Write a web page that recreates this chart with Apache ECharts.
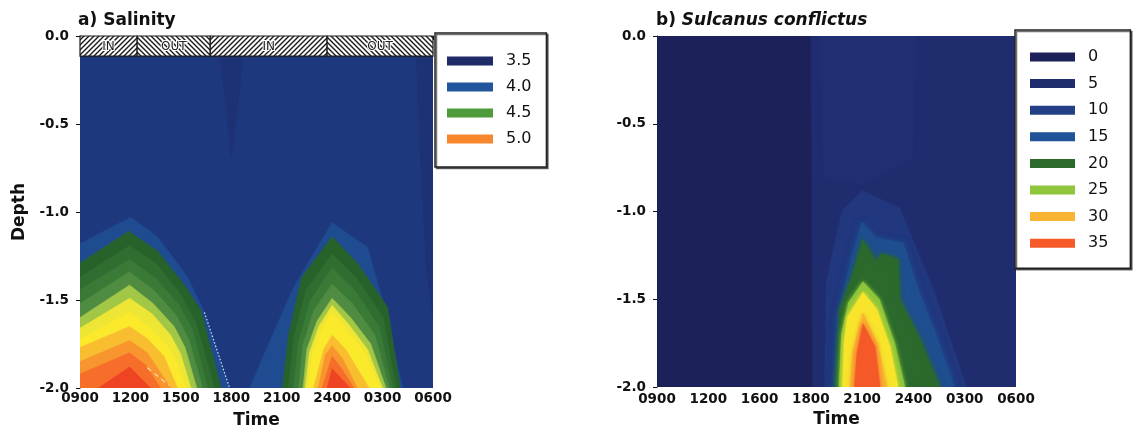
<!DOCTYPE html>
<html>
<head>
<meta charset="utf-8">
<script src="https://cdn.jsdelivr.net/npm/echarts@6/dist/echarts.min.js"></script>
<style>
  html, body { margin: 0; padding: 0; background: #fff; }
  #chart { width: 1138px; height: 433px; }
</style>
</head>
<body>
<div id="chart"></div>
<script>
// ---- Axis ticks: time is hours elapsed since 0900, one labelled tick every 3 h ----
const timeLabelsA = ['0900', '1200', '1500', '1800', '2100', '2400', '0300', '0600'];
const timeLabelsB = ['0900', '1200', '1600', '1800', '2100', '2400', '0300', '0600'];

// ---- Tidal phase bar above panel a: [label, start hour, end hour] ----
const tidePhases = [
  ['IN', 0, 3.4],
  ['OUT', 3.4, 7.75],
  ['IN', 7.75, 14.7],
  ['OUT', 14.7, 21]
];

// ---- Salinity: filled contour regions, each a list of [hour, depth] outlines ----
const sal375 = [[[0, 0], [21, 0], [21, -2], [0, -2]]];
const sal35 = [
  [[8.3, -0.1], [9.7, -0.1], [9.35, -0.45], [9.0, -0.68], [8.7, -0.4]],
  [[20.0, -0.1], [21, -0.1], [21, -1.6], [20.6, -1.3], [20.2, -0.6]]
];
const sal40 = [
  [[0, -1.18], [3.0, -1.03], [4.6, -1.14], [6.4, -1.37], [7.4, -1.57], [8.9, -2], [0, -2]],
  [[10.1, -2], [10.9, -1.82], [12.7, -1.43], [15.0, -1.06], [17.1, -1.2], [18.0, -1.5], [19.2, -2]]
];
const sal42 = [
  [[0, -1.29], [2.9, -1.11], [4.6, -1.22], [6.1, -1.40], [7.2, -1.56], [8.4, -2], [0, -2]],
  [[12.05, -2], [12.4, -1.7], [13.2, -1.37], [15.0, -1.14], [16.5, -1.29], [18.3, -1.54], [19.05, -2]]
];
const sal43 = [
  [[0, -1.37], [2.95, -1.19], [4.6, -1.30], [6.0, -1.47], [6.9, -1.63], [8.0, -2], [0, -2]],
  [[12.4, -2], [12.7, -1.72], [13.45, -1.44], [15.0, -1.24], [16.4, -1.37], [18.05, -1.6], [18.8, -2]]
];
const sal44 = [
  [[0, -1.44], [2.95, -1.27], [4.55, -1.38], [5.9, -1.53], [6.7, -1.67], [7.6, -2], [0, -2]],
  [[12.7, -2], [13.0, -1.74], [13.7, -1.5], [15.0, -1.32], [16.3, -1.44], [17.8, -1.65], [18.6, -2]]
];
const sal45 = [
  [[0, -1.52], [2.95, -1.34], [4.45, -1.45], [5.75, -1.59], [6.5, -1.73], [7.3, -2], [0, -2]],
  [[13.0, -2], [13.25, -1.76], [13.9, -1.56], [15.0, -1.41], [16.2, -1.52], [17.55, -1.7], [18.4, -2]]
];
const sal46 = [
  [[0, -1.6], [2.95, -1.415], [4.35, -1.52], [5.6, -1.65], [6.25, -1.77], [6.95, -2], [0, -2]],
  [[13.27, -2], [13.5, -1.78], [14.1, -1.62], [15.0, -1.49], [16.1, -1.6], [17.3, -1.75], [18.2, -2]]
];
const sal47 = [
  [[0, -1.66], [2.95, -1.49], [4.3, -1.58], [5.4, -1.70], [6.0, -1.81], [6.6, -2], [0, -2]],
  [[13.4, -2], [13.65, -1.8], [14.2, -1.65], [15.0, -1.53], [16.0, -1.64], [17.1, -1.78], [18.0, -2]]
];
const sal48 = [
  [[0, -1.72], [2.95, -1.57], [4.1, -1.65], [5.2, -1.76], [5.75, -1.85], [6.3, -2], [0, -2]],
  [[13.57, -2], [13.8, -1.82], [14.3, -1.68], [15.0, -1.57], [15.95, -1.68], [16.95, -1.8], [17.86, -2]]
];
const sal49 = [
  [[0, -1.77], [2.95, -1.65], [4.0, -1.72], [5.0, -1.82], [5.8, -2], [0, -2]],
  [[13.9, -2], [14.5, -1.78], [15.0, -1.70], [15.8, -1.78], [17.2, -2]]
];
const sal50 = [
  [[0, -1.85], [2.95, -1.73], [4.0, -1.80], [5.4, -2], [0, -2]],
  [[14.17, -2], [14.6, -1.81], [15.0, -1.76], [15.6, -1.83], [16.5, -2]]
];
const sal51 = [
  [[0, -1.92], [2.95, -1.80], [3.9, -1.87], [4.8, -2], [0, -2]],
  [[14.4, -2], [15.0, -1.82], [15.5, -1.88], [16.3, -2]]
];
const sal52 = [
  [[1.1, -2], [2.95, -1.88], [4.2, -2]],
  [[14.7, -2], [15.0, -1.89], [16.07, -2]]
];
const salinityLevels = ['3.75', '3.5', '4.0', '4.2', '4.3', '4.4', '4.5', '4.6', '4.7', '4.8', '4.9', '5.0', '5.1', '5.2'];
const salinityBands = [sal375, sal35, sal40, sal42, sal43, sal44, sal45, sal46, sal47, sal48, sal49, sal50, sal51, sal52];
const salinityLegend = ['3.5', '4.0', '4.5', '5.0'];
// traced contour segments showing through the fill
const salEdgeDotted = [[7.4, -1.57], [8.9, -2]];
const salEdgeDashed = [[4.0, -1.885], [5.3, -1.985]];

// ---- Sulcanus conflictus density: filled contour regions ----
const sul0 = [[[0, 0], [21, 0], [21, -2], [0, -2]]];
const sul5 = [[[9.0, 0], [21, 0], [21, -2], [9.1, -2]]];
const sul75 = [[[9.5, 0], [15.2, 0], [15.0, -0.7], [12.0, -0.85], [9.7, -0.8]]];
const sul10 = [[[9.8, -2], [9.9, -1.4], [10.8, -1.0], [12.0, -0.88], [14.2, -0.98], [16.2, -1.45], [18.1, -2]]];
const sul15 = [[[10.3, -2], [10.55, -1.6], [11.4, -1.25], [12.0, -1.06], [12.8, -1.15], [14.4, -1.18], [15.3, -1.45], [16.4, -1.72], [17.4, -2]]];
const sul20 = [[[10.45, -2], [10.7, -1.56], [11.4, -1.37], [12.05, -1.16], [12.85, -1.29], [13.1, -1.24], [14.1, -1.27], [14.2, -1.5], [15.4, -1.73], [16.55, -2]]];
const sul25 = [[[10.65, -2], [10.8, -1.7], [11.2, -1.52], [12.05, -1.40], [13.0, -1.5], [13.9, -1.75], [14.5, -2]]];
const sul275 = [[[10.85, -2], [10.95, -1.75], [11.15, -1.6], [12.05, -1.46], [12.87, -1.56], [13.63, -1.77], [14.1, -2]]];
const sul30 = [[[11.3, -2], [11.45, -1.8], [12.05, -1.58], [12.9, -1.75], [13.45, -2]]];
const sul35 = [[[11.55, -2], [11.7, -1.81], [12.05, -1.64], [12.75, -1.77], [13.05, -2]]];
const sulcanusLevels = ['0', '5', '7.5', '10', '15', '20', '25', '27.5', '30', '35'];
const sulcanusBands = [sul0, sul5, sul75, sul10, sul15, sul20, sul25, sul275, sul30, sul35];
const sulcanusLegend = ['0', '5', '10', '15', '20', '25', '30', '35'];

// ---- Colour scales ----
const salinityColors = ['#1e387e', '#1d3274', '#1f4b90', '#28622b', '#2f6d30', '#3a7a37', '#4f8c41',
  '#a2c646', '#eee634', '#fbe92c', '#f9bd30', '#f8952e', '#f66e2a', '#ee4424'];
const salinityKeyColors = ['#1e2b66', '#21559c', '#4f9a3a', '#f8862c'];
const sulcanusColors = ['#1c2259', '#1f2c6e', '#202f72', '#21377e', '#1f4f90', '#2b6a2c', '#8fc63c', '#f8e52c', '#f8b432', '#f55a28'];
const sulcanusKeyColors = ['#1c2259', '#1f2c6e', '#233f86', '#1f5296', '#2b6a2c', '#8fc63c', '#f8b432', '#f55a28'];
// edge softening (px) of each filled region in panel b
const sulcanusSoftness = [0, 0, 0, 0, 6, 5, 4, 4, 4, 4];

const FONT = 'DejaVu Sans';
const tideBarDepth = -0.114;

function hatchCanvas(forward) {
  const s = 5;
  const c = document.createElement('canvas');
  c.width = s; c.height = s;
  const g = c.getContext('2d');
  g.fillStyle = '#fff';
  g.fillRect(0, 0, s, s);
  g.strokeStyle = '#1a1a1a';
  g.lineWidth = 1.4;
  g.beginPath();
  if (forward) {
    g.moveTo(0, s); g.lineTo(s, 0);
    g.moveTo(-1, 1); g.lineTo(1, -1);
    g.moveTo(s - 1, s + 1); g.lineTo(s + 1, s - 1);
  } else {
    g.moveTo(0, 0); g.lineTo(s, s);
    g.moveTo(-1, s - 1); g.lineTo(1, s + 1);
    g.moveTo(s - 1, -1); g.lineTo(s + 1, 1);
  }
  g.stroke();
  return c;
}
const hatchIn = hatchCanvas(true);
const hatchOut = hatchCanvas(false);

function bandSeries(name, polys, color, gridIdx, soft) {
  return {
    type: 'custom',
    name: name,
    xAxisIndex: gridIdx,
    yAxisIndex: gridIdx,
    coordinateSystem: 'cartesian2d',
    clip: true,
    silent: true,
    itemStyle: { color: color },
    data: polys.map(p => p[0]),
    renderItem: function (params, api) {
      const pts = polys[params.dataIndex].map(v => api.coord(v));
      const style = { fill: color, stroke: color, lineWidth: 0.6 };
      if (soft) { style.shadowBlur = soft; style.shadowColor = color; }
      return { type: 'polygon', shape: { points: pts }, style: style };
    }
  };
}

const series = [];
salinityLevels.forEach((lv, i) => series.push(bandSeries(lv, salinityBands[i], salinityColors[i], 0, 0)));
series.push({
  type: 'line', name: 'edge-dotted', xAxisIndex: 0, yAxisIndex: 0, silent: true,
  data: salEdgeDotted, symbol: 'none',
  lineStyle: { color: 'rgba(235,240,255,0.9)', width: 1.2, type: [1.5, 2] }
});
series.push({
  type: 'line', name: 'edge-dashed', xAxisIndex: 0, yAxisIndex: 0, silent: true,
  data: salEdgeDashed, symbol: 'none',
  lineStyle: { color: 'rgba(255,235,220,0.8)', width: 1.2, type: [5, 4] }
});
series.push({
  type: 'custom',
  name: 'tide',
  xAxisIndex: 0, yAxisIndex: 0,
  clip: false, silent: true,
  encode: { x: 0, y: 1 },
  data: tidePhases.map(t => [t[1], 0, t[2]]),
  renderItem: function (params, api) {
    const p0 = api.coord([api.value(0), 0]);
    const p1 = api.coord([api.value(2), tideBarDepth]);
    const label = tidePhases[params.dataIndex][0];
    return {
      type: 'group',
      children: [
        {
          type: 'rect',
          shape: { x: p0[0], y: p0[1], width: p1[0] - p0[0], height: p1[1] - p0[1] },
          style: { fill: { image: label === 'IN' ? hatchIn : hatchOut, repeat: 'repeat' }, stroke: '#1a1a1a', lineWidth: 1.2 }
        },
        {
          type: 'text',
          style: {
            text: label, x: (p0[0] + p1[0]) / 2, y: (p0[1] + p1[1]) / 2 + 1,
            align: 'center', verticalAlign: 'middle',
            font: '12px "DejaVu Sans"', fill: '#222', stroke: '#fff', lineWidth: 2
          }
        }
      ]
    };
  }
});
sulcanusLevels.forEach((lv, i) => series.push(bandSeries(lv, sulcanusBands[i], sulcanusColors[i], 1, sulcanusSoftness[i])));

function xAxisFor(gridIdx, labels, labelMargin) {
  return {
    gridIndex: gridIdx, type: 'value', min: 0, max: 21, interval: 3,
    name: 'Time', nameLocation: 'middle', nameGap: 24,
    nameTextStyle: { fontFamily: FONT, fontWeight: 'bold', fontSize: 17, color: '#111' },
    axisLine: { show: true, lineStyle: { color: '#111', width: 1 } },
    axisTick: { show: true, length: 4, lineStyle: { color: '#111' } },
    axisLabel: {
      margin: labelMargin, fontFamily: FONT, fontWeight: 'bold', fontSize: 13.5, color: '#111',
      showMinLabel: true, showMaxLabel: true,
      formatter: v => labels[Math.round(v / 3)]
    },
    splitLine: { show: false }
  };
}
function yAxisFor(gridIdx, withName) {
  return {
    gridIndex: gridIdx, type: 'value', min: -2, max: 0, interval: 0.5,
    name: withName ? 'Depth' : '', nameLocation: 'middle', nameGap: 52,
    nameTextStyle: { fontFamily: FONT, fontWeight: 'bold', fontSize: 17, color: '#111' },
    axisLine: { show: true, lineStyle: { color: '#111', width: 1 } },
    axisTick: { show: true, length: 4, lineStyle: { color: '#111' } },
    axisLabel: { margin: 11, fontFamily: FONT, fontWeight: 'bold', fontSize: 13.5, color: '#111', formatter: v => v.toFixed(1) },
    splitLine: { show: false }
  };
}

const legendText = { fontFamily: FONT, fontSize: 16, color: '#111', padding: [0, 0, 0, 8] };

const option = {
  animation: false,
  backgroundColor: '#fff',
  title: [
    {
      text: 'a) Salinity', left: 78, top: 12, padding: 0,
      textStyle: { fontFamily: FONT, fontWeight: 'bold', fontSize: 17, color: '#111' }
    },
    {
      text: '{n|b) }{i|Sulcanus conflictus}', left: 656, top: 12, padding: 0,
      textStyle: {
        fontSize: 17,
        rich: {
          n: { fontFamily: FONT, fontWeight: 'bold', fontSize: 17, color: '#111' },
          i: { fontFamily: FONT, fontWeight: 'bold', fontStyle: 'italic', fontSize: 17, color: '#111' }
        }
      }
    }
  ],
  grid: [
    { left: 80, top: 36, width: 353, height: 352, outerBoundsMode: 'none', containLabel: false },
    { left: 657, top: 36, width: 359, height: 351, outerBoundsMode: 'none', containLabel: false }
  ],
  xAxis: [xAxisFor(0, timeLabelsA, 3), xAxisFor(1, timeLabelsB, 5)],
  yAxis: [yAxisFor(0, true), yAxisFor(1, false)],
  legend: [
    {
      data: salinityLegend.map((n, i) => ({ name: n, itemStyle: { color: salinityKeyColors[i] } })),
      orient: 'vertical', left: 435, top: 33,
      padding: [20, 15, 20, 12], itemGap: 10, itemWidth: 46, itemHeight: 9,
      icon: 'rect', selectedMode: false, backgroundColor: '#fff',
      borderColor: '#222', borderWidth: 1.5,
      shadowColor: 'rgba(0,0,0,0.55)', shadowOffsetX: 1.5, shadowOffsetY: 1.5, shadowBlur: 0,
      textStyle: legendText
    },
    {
      data: sulcanusLegend.map((n, i) => ({ name: n, itemStyle: { color: sulcanusKeyColors[i] } })),
      orient: 'vertical', left: 1015, top: 30,
      padding: [19, 22, 17, 15], itemGap: 10.6, itemWidth: 45, itemHeight: 9,
      icon: 'rect', selectedMode: false, backgroundColor: '#fff',
      borderColor: '#222', borderWidth: 1.5,
      shadowColor: 'rgba(0,0,0,0.55)', shadowOffsetX: 1.5, shadowOffsetY: 1.5, shadowBlur: 0,
      textStyle: legendText
    }
  ],
  series: series
};

const chart = echarts.init(document.getElementById('chart'), null, { renderer: 'canvas' });
chart.setOption(option);
</script>
</body>
</html>
